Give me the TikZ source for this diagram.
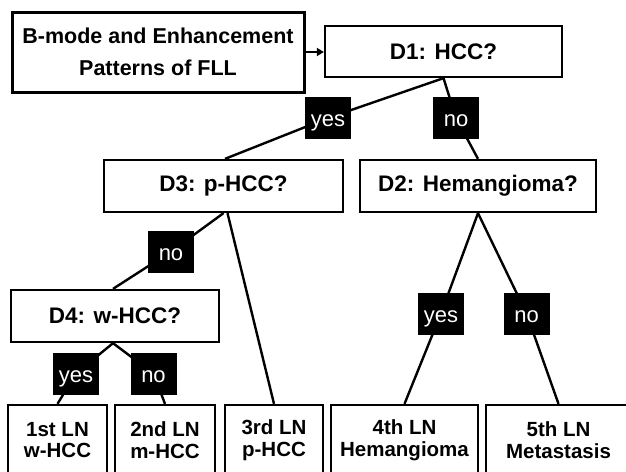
\documentclass[tikz,border=0pt]{standalone}
\usepackage{fontspec}
\setmainfont{Liberation Sans}
\usetikzlibrary{arrows.meta}
\pgfdeclarelayer{background}
\pgfsetlayers{background,main}
\begin{document}
\begin{tikzpicture}[x=1pt,y=-1pt,
  box/.style={draw, line width=2.3pt, fill=white, inner sep=0pt, align=center,
    font=\fontsize{20.5}{21.5}\selectfont\bfseries},
  dbox/.style={box, minimum height=52, font=\fontsize{22.5}{22.5}\selectfont\bfseries},
  leaf/.style={box, minimum height=70},
  lab/.style={fill=black, text=white, inner sep=0pt, minimum width=46, minimum height=42,
    text height=17, text depth=0, font=\fontsize{22}{22}\selectfont},
  conn/.style={line width=2.4pt}]
\useasboundingbox (0,0) rectangle (626,471);
\clip (0,0) rectangle (626,471);

% decision boxes
\node[box, line width=3pt, minimum width=292, minimum height=80,
  font=\fontsize{21.5}{32}\selectfont\bfseries] (src) at (158,52)
  {B-mode and Enhancement\\Patterns of FLL};
\node[dbox, minimum width=237, minimum height=51] (d1) at (443.5,51.5) {D1: HCC?};
\node[dbox, minimum width=239] (d3) at (223.5,186) {D3: p-HCC?};
\node[dbox, minimum width=236] (d2) at (478,186) {D2: Hemangioma?};
\node[dbox, minimum width=208] (d4) at (115,316) {D4: w-HCC?};

% leaf boxes
\node[leaf, minimum width=99] (l1) at (57.5,440) {1st LN\\w-HCC};
\node[leaf, minimum width=100] (l2) at (165,440) {2nd LN\\m-HCC};
\node[leaf, minimum width=98] (l3) at (274,440) {3rd LN\\p-HCC};
\node[leaf, minimum width=147] (l4) at (404.5,440) {4th LN\\Hemangioma};
\node[leaf, minimum width=145] (l5) at (558.5,440) {5th LN\\Metastasis};

% labels
\node[lab] (y1) at (328,118) {yes};
\node[lab] (n1) at (456,118) {no};
\node[lab] (n3) at (171,251.5) {no};
\node[lab] (y4) at (76,373.5) {yes};
\node[lab] (n4) at (153.5,373.5) {no};
\node[lab] (y2) at (441,313.5) {yes};
\node[lab] (n2) at (526.5,313.5) {no};

% connectors
\begin{pgfonlayer}{background}
\draw[conn] (d1.south) -- (y1.center) -- ([xshift=1.5pt]d3.north);
\draw[conn] (d1.south) -- (n1.center) -- (d2.north);
\draw[conn] (d3.south) -- (n3.center) -- ([xshift=-2pt]d4.north);
\draw[conn] ([xshift=4pt]d3.south) -- (l3.north);
\draw[conn] ([xshift=-2pt]d4.south) -- (y4.center) -- (l1.north);
\draw[conn] ([xshift=-2pt]d4.south) -- (n4.center) -- (l2.north);
\draw[conn] (d2.south) -- (y2.center) -- (l4.north);
\draw[conn] (d2.south) -- (n2.center) -- (l5.north);
\end{pgfonlayer}
\draw[line width=2pt, -{Triangle[length=7pt,width=8pt]}] (src.east) -- (src.east -| d1.west);
\end{tikzpicture}
\end{document}
